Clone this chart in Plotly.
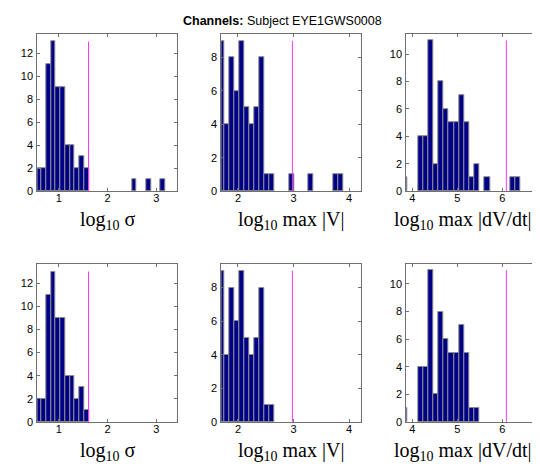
import plotly.graph_objects as go

# ---- data ----
title_bold = "Channels:"
title_rest = " Subject EYE1GWS0008"

xlabels = ["log<sub>10</sub> σ", "log<sub>10</sub> max |V|", "log<sub>10</sub> max |dV/dt|"]

# column 1: log10 sigma
sig_centers_top = [0.596, 0.694, 0.791, 0.889, 0.987, 1.084, 1.182, 1.279, 1.377, 1.474, 1.572, 2.548, 2.841, 3.134]
sig_counts_top =  [2, 2, 11, 13, 9, 9, 4, 4, 2, 3, 2, 1, 1, 1]
sig_centers_bot = [0.596, 0.694, 0.791, 0.889, 0.987, 1.084, 1.182, 1.279, 1.377, 1.474, 1.572]
sig_counts_bot =  [2, 2, 11, 13, 9, 9, 4, 4, 2, 3, 1]
sig_width = 0.0976
sig_thresh = 1.61

# column 2: log10 max |V|
v_centers_top = [1.714, 1.804, 1.893, 1.982, 2.071, 2.161, 2.250, 2.339, 2.428, 2.518, 2.607, 2.963, 3.320, 3.766, 3.855]
v_counts_top =  [9, 4, 8, 6, 9, 5, 4, 5, 8, 1, 1, 1, 1, 1, 1]
v_centers_bot = [1.714, 1.804, 1.893, 1.982, 2.071, 2.161, 2.250, 2.339, 2.428, 2.518, 2.607]
v_counts_bot =  [9, 4, 8, 6, 9, 5, 4, 5, 8, 1, 1]
v_width = 0.0892
v_thresh = 2.98

# column 3: log10 max |dV/dt|
d_centers_top = [3.840, 4.183, 4.297, 4.411, 4.525, 4.640, 4.754, 4.868, 4.982, 5.097, 5.211, 5.325, 5.439, 5.668, 6.238, 6.352]
d_counts_top =  [1, 4, 4, 11, 2, 8, 6, 5, 5, 7, 5, 1, 2, 1, 1, 1]
d_centers_bot = [3.840, 4.183, 4.297, 4.411, 4.525, 4.640, 4.754, 4.868, 4.982, 5.097, 5.211, 5.325, 5.439]
d_counts_bot =  [1, 4, 4, 11, 2, 8, 6, 5, 5, 7, 5, 1, 1]
d_width = 0.1142
d_thresh = 6.09

xranges = [[0.56, 3.43], [1.70, 4.21], [3.867, 6.96]]
yranges = [[0, 13.65], [0, 9.4], [0, 11.45]]
xticks = [[1, 2, 3], [2, 3, 4], [4, 5, 6]]
yticks = [[0, 2, 4, 6, 8, 10, 12], [0, 2, 4, 6, 8], [0, 2, 4, 6, 8, 10]]

W, H = 540, 469
xdom_px = [(29.3, 169.3), (213.3, 352.7), (398.3, 537.5)]
ydom_px = [(26.5, 185.5), (259.3, 419.3)]  # top, bottom (pixels from top)
label_cx = [100, 283, 455]

cols = [
    ((sig_centers_top, sig_counts_top), (sig_centers_bot, sig_counts_bot), sig_width, sig_thresh),
    ((v_centers_top, v_counts_top), (v_centers_bot, v_counts_bot), v_width, v_thresh),
    ((d_centers_top, d_counts_top), (d_centers_bot, d_counts_bot), d_width, d_thresh),
]

fig = go.Figure()
layout = {}
annotations = []
idx = 0
for r in range(2):
    for c in range(3):
        idx += 1
        xa = "x" if idx == 1 else f"x{idx}"
        ya = "y" if idx == 1 else f"y{idx}"
        top, bot, width, thresh = cols[c]
        centers, counts = top if r == 0 else bot
        fig.add_trace(go.Bar(
            x=centers, y=counts, width=width, xaxis=xa, yaxis=ya,
            marker=dict(color="#000088", line=dict(color="#8c8c8c", width=1)),
            showlegend=False, hoverinfo="skip"))
        fig.add_trace(go.Scatter(
            x=[thresh, thresh], y=[0, max(top[1])], mode="lines",
            line=dict(color="#FF33FF", width=1), xaxis=xa, yaxis=ya,
            showlegend=False, hoverinfo="skip"))
        x0, x1 = xdom_px[c]
        y0, y1 = ydom_px[r]
        common = dict(showgrid=False, zeroline=False, showline=True, linecolor="#707070",
                      linewidth=1, mirror="ticks", ticks="inside", ticklen=3,
                      tickcolor="#707070", tickfont=dict(family="Liberation Sans, Arial", size=11, color="black"))
        layout["xaxis" if idx == 1 else f"xaxis{idx}"] = dict(
            domain=[x0 / W, x1 / W], range=xranges[c], tickvals=xticks[c],
            anchor=ya, ticklabelstandoff=-3, **common)
        layout["yaxis" if idx == 1 else f"yaxis{idx}"] = dict(
            domain=[1 - y1 / H, 1 - y0 / H], range=yranges[c], tickvals=yticks[c],
            anchor=xa, ticklabelstandoff=1, **common)
        annotations.append(dict(
            text=xlabels[c], xref="paper", yref="paper",
            x=label_cx[c] / W, y=1 - (y1 + 30) / H, xanchor="center", yanchor="middle",
            showarrow=False, font=dict(family="Liberation Serif, Times New Roman", size=20, color="black")))

annotations.append(dict(
    text=f"<b>{title_bold}</b>{title_rest}", xref="paper", yref="paper",
    x=274 / W, y=1 - 13 / H, xanchor="center", yanchor="middle", showarrow=False,
    font=dict(family="Liberation Sans, Arial", size=12.5, color="black")))

fig.update_layout(
    width=W, height=H, margin=dict(l=0, r=0, t=0, b=0),
    paper_bgcolor="white", plot_bgcolor="white", bargap=0,
    annotations=annotations, **layout)

fig.write_html("out.html")
